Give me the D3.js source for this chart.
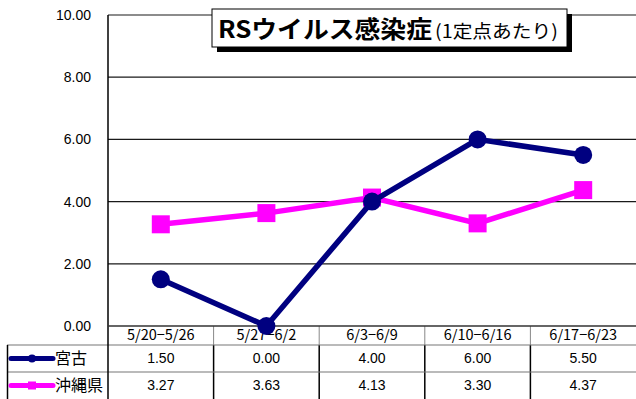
<!DOCTYPE html>
<html>
<head>
<meta charset="utf-8">
<script src="https://cdn.jsdelivr.net/npm/d3@7"></script>
<style>
  html, body { margin: 0; padding: 0; background: #fff; }
  svg { display: block; }
</style>
</head>
<body>
<svg id="chart" width="636" height="399"></svg>
<script>
// Weekly reports per sentinel site
const weeks = ["5/20−5/26", "5/27−6/2", "6/3−6/9", "6/10−6/16", "6/17−6/23"];
const miyako = [1.50, 0.00, 4.00, 6.00, 5.50];
const okinawa = [3.27, 3.63, 4.13, 3.30, 4.37];
const yTicks = [0, 2, 4, 6, 8, 10];
const seriesNames = ["宮古", "沖縄県"];
const seriesColors = ["#000080", "#ff00ff"];

const W = 636, H = 399;
const plot = { left: 108, right: 636, top: 15, bottom: 326 };
const rowBottoms = [345, 372, 399];

const svg = d3.select("#chart");
const numFont = "'Liberation Sans', Arial, sans-serif";
const jpFont = "'Noto Sans CJK JP', sans-serif";

const x = d3.scaleBand().domain(weeks).range([plot.left, plot.right]);
const y = d3.scaleLinear().domain([0, 10]).range([plot.bottom, plot.top]);

// Horizontal gridlines
svg.append("g")
  .selectAll("line")
  .data(yTicks.filter(d => d > 0))
  .join("line")
  .attr("x1", plot.left).attr("x2", plot.right)
  .attr("y1", d => y(d)).attr("y2", d => y(d))
  .attr("stroke", "#1a1a1a").attr("stroke-width", 1.2);

// Y axis
const yAxis = d3.axisLeft(y).tickValues(yTicks).tickSize(0).tickPadding(17)
  .tickFormat(d3.format(".2f"));
const gy = svg.append("g").attr("transform", `translate(${plot.left},0)`).call(yAxis);
gy.select(".domain").remove();
gy.selectAll("text").attr("font-family", numFont).attr("font-size", 14).attr("fill", "#000");

// Data table below the plot
const table = svg.append("g");
// header row separators (gray)
table.selectAll("line.hsep")
  .data(weeks.slice(1))
  .join("line").attr("class", "hsep")
  .attr("x1", d => x(d)).attr("x2", d => x(d))
  .attr("y1", plot.bottom).attr("y2", rowBottoms[0])
  .attr("stroke", "#888").attr("stroke-width", 1);
// body row separators
table.selectAll("line.bsep")
  .data(weeks.slice(1))
  .join("line").attr("class", "bsep")
  .attr("x1", d => x(d)).attr("x2", d => x(d))
  .attr("y1", rowBottoms[0]).attr("y2", H)
  .attr("stroke", "#000").attr("stroke-width", 1.5);
// horizontal row lines
table.selectAll("line.row")
  .data(rowBottoms.slice(0, 2))
  .join("line").attr("class", "row")
  .attr("x1", 7).attr("x2", W)
  .attr("y1", d => d).attr("y2", d => d)
  .attr("stroke", "#777").attr("stroke-width", 1.2);
// legend column left border
table.append("line")
  .attr("x1", 7.5).attr("x2", 7.5).attr("y1", rowBottoms[0]).attr("y2", H)
  .attr("stroke", "#000").attr("stroke-width", 1.5);

// category labels
table.selectAll("text.cat")
  .data(weeks)
  .join("text").attr("class", "cat")
  .attr("x", d => x(d) + x.bandwidth() / 2)
  .attr("y", (plot.bottom + rowBottoms[0]) / 2 + 1)
  .attr("text-anchor", "middle").attr("dominant-baseline", "middle")
  .attr("font-family", jpFont).attr("font-size", 14.5).attr("fill", "#000")
  .text(d => d);

const allSeries = [miyako, okinawa];
allSeries.forEach((vals, si) => {
  const cy = (rowBottoms[si] + rowBottoms[si + 1]) / 2;
  table.selectAll(null)
    .data(vals)
    .join("text")
    .attr("x", (d, i) => x(weeks[i]) + x.bandwidth() / 2)
    .attr("y", cy + 1)
    .attr("text-anchor", "middle").attr("dominant-baseline", "middle")
    .attr("font-family", numFont).attr("font-size", 14).attr("fill", "#000")
    .text(d => d3.format(".2f")(d));
  // legend key
  const lg = table.append("g");
  lg.append("line").attr("x1", 11).attr("x2", 53).attr("y1", cy).attr("y2", cy)
    .attr("stroke", seriesColors[si]).attr("stroke-width", 5).attr("stroke-linecap", "round");
  if (si === 0) {
    lg.append("circle").attr("cx", 32).attr("cy", cy).attr("r", 4).attr("fill", seriesColors[si]);
  } else {
    lg.append("rect").attr("x", 28).attr("y", cy - 4).attr("width", 8).attr("height", 8).attr("fill", seriesColors[si]);
  }
  lg.append("text").attr("x", 55).attr("y", cy + 1)
    .attr("dominant-baseline", "middle")
    .attr("font-family", jpFont).attr("font-size", 16).attr("fill", "#000")
    .text(seriesNames[si]);
});

// Plot frame: left axis line (continues through table) and baseline
svg.append("line").attr("x1", plot.left).attr("x2", plot.left)
  .attr("y1", plot.top).attr("y2", H).attr("stroke", "#000").attr("stroke-width", 1.5);
svg.append("line").attr("x1", plot.left).attr("x2", plot.right)
  .attr("y1", plot.bottom).attr("y2", plot.bottom).attr("stroke", "#333").attr("stroke-width", 1.5);

// Series lines
const line = d3.line()
  .x((d, i) => x(weeks[i]) + x.bandwidth() / 2)
  .y(d => y(d));

svg.append("path").datum(okinawa)
  .attr("d", line).attr("fill", "none")
  .attr("stroke", seriesColors[1]).attr("stroke-width", 5.5);
svg.selectAll("rect.okinawa")
  .data(okinawa)
  .join("rect").attr("class", "okinawa")
  .attr("x", (d, i) => x(weeks[i]) + x.bandwidth() / 2 - 9)
  .attr("y", d => y(d) - 9)
  .attr("width", 18).attr("height", 18)
  .attr("fill", seriesColors[1]);

svg.append("path").datum(miyako)
  .attr("d", line).attr("fill", "none")
  .attr("stroke", seriesColors[0]).attr("stroke-width", 5.5);
svg.selectAll("circle.miyako")
  .data(miyako)
  .join("circle").attr("class", "miyako")
  .attr("cx", (d, i) => x(weeks[i]) + x.bandwidth() / 2)
  .attr("cy", d => y(d))
  .attr("r", 9)
  .attr("fill", seriesColors[0]);

// Title box with drop shadow
const tb = { x: 212, y: 9, w: 355, h: 38 };
svg.append("rect").attr("x", tb.x + 5).attr("y", tb.y + 5).attr("width", tb.w).attr("height", tb.h).attr("fill", "#000");
svg.append("rect").attr("x", tb.x).attr("y", tb.y).attr("width", tb.w).attr("height", tb.h)
  .attr("fill", "#fff").attr("stroke", "#000").attr("stroke-width", 1);
svg.append("text").attr("x", tb.x + 6).attr("y", tb.y + 29)
  .attr("font-family", jpFont).attr("font-size", 24).attr("font-weight", "bold").attr("fill", "#000")
  .attr("textLength", 214).attr("lengthAdjust", "spacingAndGlyphs")
  .text("RSウイルス感染症");
svg.append("text").attr("x", tb.x + 223).attr("y", tb.y + 29)
  .attr("font-family", jpFont).attr("font-size", 18).attr("fill", "#000")
  .attr("textLength", 123).attr("lengthAdjust", "spacingAndGlyphs")
  .text("(1定点あたり)");
</script>
</body>
</html>
